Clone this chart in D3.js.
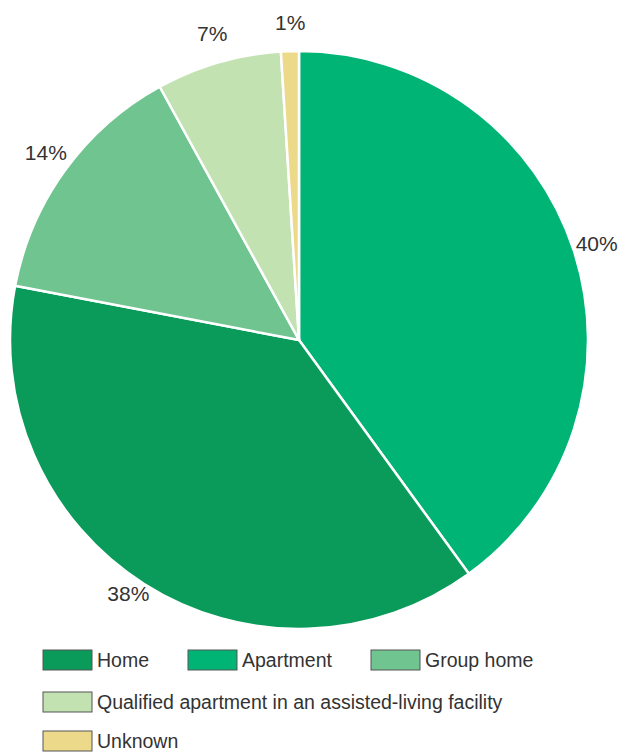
<!DOCTYPE html>
<html><head><meta charset="utf-8">
<script src="https://cdn.jsdelivr.net/npm/d3@7/dist/d3.min.js"></script>
<style>body{margin:0;background:#fff;}svg{display:block;}</style>
</head><body>
<svg id="c" width="622" height="755"></svg>
<script>
const categories = ["Apartment", "Home", "Group home", "Qualified apartment in an assisted-living facility", "Unknown"];
const values = [40, 38, 14, 7, 1];
const labels = ["40%", "38%", "14%", "7%", "1%"];
const colors = ["#00b476", "#0a9a5a", "#6fc490", "#c2e2b2", "#ecd98a"];
const legendOrder = ["Home", "Apartment", "Group home", "Qualified apartment in an assisted-living facility", "Unknown"];

const svg = d3.select("#c");
const cx = 299, cy = 340, r = 289;
const data = categories.map((c, i) => ({cat: c, value: values[i], label: labels[i], color: colors[i]}));
const pie = d3.pie().value(d => d.value).sort(null);
const arcs = pie(data);
const arc = d3.arc().innerRadius(0).outerRadius(r);
const g = svg.append("g").attr("transform", `translate(${cx},${cy})`);
g.selectAll("path").data(arcs).enter().append("path")
  .attr("d", arc).attr("fill", d => d.data.color)
  .attr("stroke", "#fff").attr("stroke-width", 2.5).attr("stroke-linejoin", "round");

// labels
const labelRadius = [r + 24, r + 17, r + 26, r + 30, r + 29];
const labelAngleShift = [0, 1.5, 0.5, 0.4, 0.2];
g.selectAll("text.lbl").data(arcs).enter().append("text")
  .attr("class", "lbl")
  .each(function(d, i) {
    const a = (d.startAngle + d.endAngle) / 2 + labelAngleShift[i] * Math.PI / 180;
    const lr = labelRadius[i];
    d3.select(this).attr("x", Math.sin(a) * lr).attr("y", -Math.cos(a) * lr);
  })
  .attr("text-anchor", "middle").attr("dominant-baseline", "central")
  .attr("font-family", "Liberation Sans, Arial, sans-serif").attr("font-size", 21)
  .attr("fill", "#333").text(d => d.data.label);

// legend
const colorOf = c => colors[categories.indexOf(c)];
const legPos = [[43, 650], [188, 650], [371, 650], [43, 692], [43, 731]];
const leg = svg.append("g");
legendOrder.forEach((c, i) => {
  const [x, y] = legPos[i];
  leg.append("rect").attr("x", x).attr("y", y).attr("width", 49).attr("height", 20)
    .attr("fill", colorOf(c)).attr("stroke", "#555").attr("stroke-width", 1);
  leg.append("text").attr("x", x + 54).attr("y", y + 10).attr("dominant-baseline", "central")
    .attr("font-family", "Liberation Sans, Arial, sans-serif").attr("font-size", 19.5)
    .attr("fill", "#333").text(c);
});
</script>
</body></html>
